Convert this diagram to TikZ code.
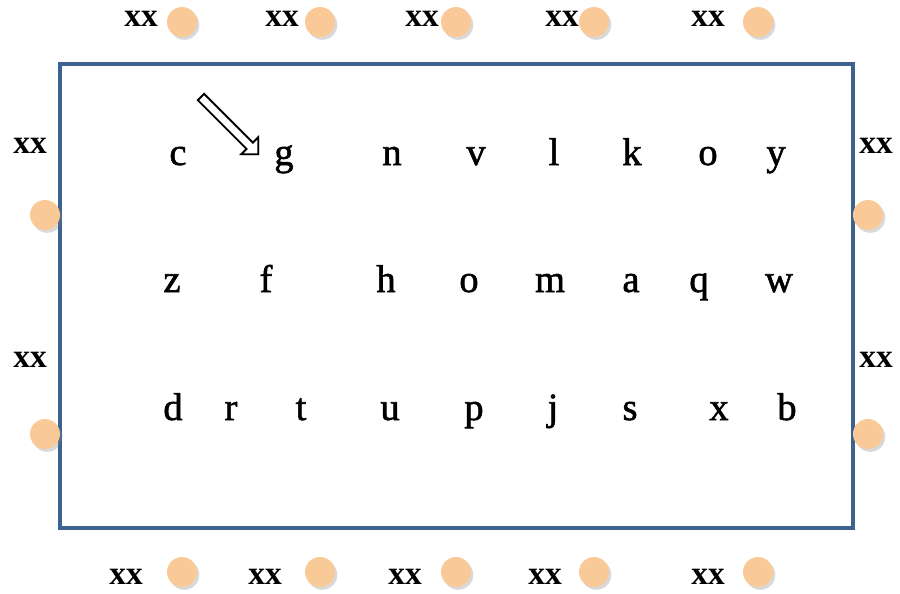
\documentclass[tikz,border=0pt]{standalone}
\usepackage{fontspec}
\setmainfont{Liberation Serif}
\newfontfamily\heavyserif[FakeBold=1.4]{Liberation Serif}
\usepackage{xcolor}
\usetikzlibrary{positioning,shadows,shapes.arrows}

\definecolor{framecol}{RGB}{62,98,142}
\definecolor{seatcol}{RGB}{250,201,152}

\tikzset{
  seat/.style={circle,fill=seatcol,minimum size=0.6cm,inner sep=0pt,
    drop shadow={shadow xshift=1.3pt,shadow yshift=-1.6pt,opacity=0.3}},
  tag/.style={font=\fontsize{19}{21}\selectfont\bfseries,inner sep=0pt},
  lett/.style={font=\fontsize{22}{24}\selectfont\heavyserif,inner sep=0pt,anchor=base}
}

\begin{document}
\begin{tikzpicture}[x=0.02cm,y=-0.02cm]
\useasboundingbox (0,0) rectangle (900,593);
\draw[framecol,line width=2.2pt] (60,64) rectangle (853,528);
% seats on top
\node[tag] (t1) at (141,19) {xx};  \node[seat] (s1) at (182,22) {};
\node[tag] (t2) at (282,19) {xx};  \node[seat] (s2) at (320,22) {};
\node[tag] (t3) at (422,19) {xx};  \node[seat] (s3) at (456,22) {};
\node[tag] (t4) at (562,19) {xx};  \node[seat] (s4) at (594,22) {};
\node[tag] (t5) at (708,19) {xx};  \node[seat] (s5) at (758,22) {};
% seats at the bottom
\node[tag] (b1) at (126,577) {xx};  \node[seat] (u1) at (182,572) {};
\node[tag] (b2) at (265,577) {xx};  \node[seat] (u2) at (320,572) {};
\node[tag] (b3) at (405,577) {xx};  \node[seat] (u3) at (456,572) {};
\node[tag] (b4) at (545,577) {xx};  \node[seat] (u4) at (594,572) {};
\node[tag] (b5) at (708,577) {xx};  \node[seat] (u5) at (758,572) {};
% seats left and right
\node[tag] (l1) at (30,146) {xx};  \node[seat] (ls1) at (45,215) {};
\node[tag] (l2) at (30,360) {xx};  \node[seat] (ls2) at (45,434) {};
\node[tag] (r1) at (876,146) {xx};  \node[seat] (rs1) at (868,215) {};
\node[tag] (r2) at (876,360) {xx};  \node[seat] (rs2) at (868,434) {};
% first row
\node[lett] (c) at (178,165) {c};
\node[lett] (g) at (284,165) {g};
\node[lett] (n) at (392,165) {n};
\node[lett] (v) at (476,165) {v};
\node[lett] (l) at (554,165) {l};
\node[lett] (k) at (632,165) {k};
\node[lett] (o1) at (708,165) {o};
\node[lett] (y) at (776,165) {y};
% second row
\node[lett] (z) at (172,292) {z};
\node[lett] (f) at (266,292) {f};
\node[lett] (h) at (386,292) {h};
\node[lett] (o2) at (469,292) {o};
\node[lett] (m) at (550,292) {m};
\node[lett] (a) at (631,292) {a};
\node[lett] (q) at (699,292) {q};
\node[lett] (w) at (779,292) {w};
% third row
\node[lett] (d) at (173,420) {d};
\node[lett] (r) at (231,420) {r};
\node[lett] (t) at (301,420) {t};
\node[lett] (u) at (390,420) {u};
\node[lett] (p) at (474,420) {p};
\node[lett] (j) at (553,420) {j};
\node[lett] (s) at (630,420) {s};
\node[lett] (x) at (719,420) {x};
\node[lett] (bb) at (787,420) {b};
% pointer
\node[single arrow,draw,fill=white,line width=1.1pt,rotate=-45,minimum height=1.62cm,
  minimum width=0.48cm,single arrow head extend=0.12cm,inner sep=1.5pt,
  drop shadow={shadow xshift=0.8pt,shadow yshift=-0.8pt,opacity=0.25}]
  (ptr) at (228,124) {};
\end{tikzpicture}
\end{document}
